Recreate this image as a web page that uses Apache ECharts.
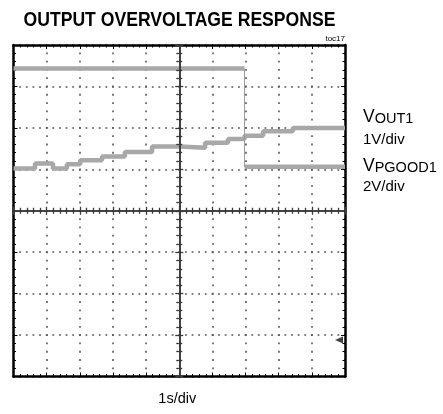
<!DOCTYPE html>
<html>
<head>
<meta charset="utf-8">
<script src="https://cdn.jsdelivr.net/npm/echarts@6/dist/echarts.min.js"></script>
<style>
  html, body { margin: 0; padding: 0; background: #fff; }
  #chart { width: 443px; height: 414px; }
</style>
</head>
<body>
<div id="chart"></div>
<script>
// ---- Data (x in seconds from screen centre, 1 s/div; y in screen divisions from centre) ----
const chartTitle = 'OUTPUT OVERVOLTAGE RESPONSE';
const figureTag = 'toc17';
const xAxisLabel = '1s/div';
const voutLabel = 'VOUT1';
const voutScale = '1V/div';
const pgoodLabel = 'VPGOOD1';
const pgoodScale = '2V/div';

// VOUT1: staircase ramp; each level holds from its start time until the next one
const voutStepTimes  = [-5.00, -4.35, -3.81, -3.39, -2.99, -2.33, -1.64, -0.82, 0.02, 0.78, 1.47, 1.97, 2.53, 3.43, 5.00];
const voutStepLevels = [ 1.02,  1.14,  1.02,  1.12,  1.22,  1.31,  1.42,  1.55, 1.52, 1.64, 1.73, 1.81, 1.92, 2.00, 2.00];

// VPGOOD1: high until overvoltage trip, then low
const pgoodHighTimes = [-5.00, 1.97];
const pgoodHighLevel = 3.43;
const pgoodLowTimes  = [1.97, 5.00];
const pgoodLowLevel  = 1.06;

// ground reference marker on right edge
const groundMarkerTime = [5.0];
const groundMarkerLevel = [-3.12];

// ---- Build ----
const voutData = voutStepTimes.map((t, i) => [t, voutStepLevels[i]]);
const pgoodData = [
  [pgoodHighTimes[0], pgoodHighLevel], [pgoodHighTimes[1], pgoodHighLevel],
  '-',
  [pgoodLowTimes[0], pgoodLowLevel], [pgoodLowTimes[1], pgoodLowLevel]
];
const pgoodEdge = [[pgoodHighTimes[1], pgoodHighLevel], [pgoodLowTimes[0], pgoodLowLevel]];
const markerData = groundMarkerTime.map((t, i) => [t, groundMarkerLevel[i]]);

const FONT = '"Liberation Sans", Arial, sans-serif';
const GRID_COLOR = '#555';
const xDash = { type: [1.8, 6.49], dashOffset: 0.9 };
const yDash = { type: [1.8, 4.83], dashOffset: 0.9 };

function xAx(extra) {
  return Object.assign({
    type: 'value', min: -5, max: 5, interval: 1,
    axisLabel: { show: false },
    splitLine: { show: false },
  }, extra);
}
function yAx(extra) {
  return Object.assign({
    type: 'value', min: -4, max: 4, interval: 1,
    axisLabel: { show: false },
    splitLine: { show: false },
  }, extra);
}

const borderLine = { show: true, onZero: false, lineStyle: { color: '#000', width: 2.5 } };
const borderTick = { show: true, inside: true, length: 4, lineStyle: { color: '#000', width: 1 } };
const borderMinor = { show: true, splitNumber: 5, length: 2.5, lineStyle: { color: '#000', width: 1 } };
const centerLine = { show: true, onZero: true, onZeroAxisIndex: 0, lineStyle: { color: '#3a3a3a', width: 1.6 } };
const centerTick = { show: true, inside: false, length: 4, lineStyle: { color: '#3a3a3a', width: 1.3 } };
const centerMinor = { show: true, splitNumber: 5, length: 3, lineStyle: { color: '#3a3a3a', width: 1.3 } };

const option = {
  animation: false,
  backgroundColor: '#fff',
  grid: { left: 13.5, top: 45, width: 331.5, height: 331.5, show: false, containLabel: false, outerBoundsMode: 'none' },
  xAxis: [
    xAx({ position: 'bottom', z: 1, axisLine: borderLine, axisTick: borderTick, minorTick: borderMinor,
      splitLine: { show: true, lineStyle: Object.assign({ color: GRID_COLOR, width: 1.6 }, xDash) },
      name: xAxisLabel, nameLocation: 'middle', nameGap: 15,
      nameTextStyle: { fontFamily: FONT, fontSize: 14.5, color: '#000', padding: [0, 4, 0, 0] } }),
    xAx({ position: 'top', z: 1, axisLine: borderLine, axisTick: borderTick, minorTick: borderMinor }),
    xAx({ position: 'bottom', z: 5, axisLine: centerLine, axisTick: centerTick, minorTick: centerMinor }),
    xAx({ position: 'top', z: 5, axisLine: centerLine, axisTick: centerTick, minorTick: centerMinor })
  ],
  yAxis: [
    yAx({ position: 'left', z: 1, axisLine: borderLine, axisTick: borderTick, minorTick: borderMinor,
      splitLine: { show: true, lineStyle: Object.assign({ color: GRID_COLOR, width: 1.6 }, yDash) } }),
    yAx({ position: 'right', z: 1, axisLine: borderLine, axisTick: borderTick, minorTick: borderMinor }),
    yAx({ position: 'left', z: 5, axisLine: centerLine, axisTick: centerTick, minorTick: centerMinor }),
    yAx({ position: 'right', z: 5, axisLine: centerLine, axisTick: centerTick, minorTick: centerMinor })
  ],
  series: [
    { name: voutLabel, type: 'line', step: 'end', data: voutData, xAxisIndex: 0, yAxisIndex: 0,
      showSymbol: false, symbol: 'none', z: 3,
      lineStyle: { color: '#a8a8a8', width: 4.5 } },
    { name: pgoodLabel, type: 'line', data: pgoodData, xAxisIndex: 0, yAxisIndex: 0,
      connectNulls: false, showSymbol: false, symbol: 'none', z: 3,
      lineStyle: { color: '#a8a8a8', width: 4.5 } },
    { name: pgoodLabel + ' edge', type: 'line', data: pgoodEdge, xAxisIndex: 0, yAxisIndex: 0,
      showSymbol: false, symbol: 'none', z: 3,
      lineStyle: { color: '#9a9a9a', width: 1 } },
    { name: 'ground', type: 'scatter', data: markerData, xAxisIndex: 0, yAxisIndex: 0,
      symbol: 'triangle', symbolRotate: 90, symbolSize: [7, 8], symbolOffset: [-6, 0], clip: false, z: 6,
      itemStyle: { color: '#111' } }
  ],
  graphic: [
    { type: 'text', x: 179.5, y: 20, scaleX: 0.88, z: 10, style: { text: chartTitle, fill: '#000',
      font: 'bold 20px "Liberation Sans", Arial, sans-serif', align: 'center', verticalAlign: 'middle' } },
    { type: 'text', x: 345, y: 39, z: 10, style: { text: figureTag, fill: '#000',
      font: '8px ' + FONT, align: 'right', verticalAlign: 'middle' } },
    { type: 'text', x: 363, y: 126.6, z: 10, style: { text: '{v|V}{s|OUT1}', fill: '#000', align: 'left', verticalAlign: 'bottom',
      rich: { v: { fontFamily: FONT, fontSize: 17.5, verticalAlign: 'bottom', fill: '#000' },
              s: { fontFamily: FONT, fontSize: 14.5, verticalAlign: 'bottom', fill: '#000' } } } },
    { type: 'text', x: 363, y: 139.8, z: 10, style: { text: voutScale, fill: '#000',
      font: '15px ' + FONT, align: 'left', verticalAlign: 'middle' } },
    { type: 'text', x: 363, y: 175.3, z: 10, style: { text: '{v|V}{s|PGOOD1}', fill: '#000', align: 'left', verticalAlign: 'bottom',
      rich: { v: { fontFamily: FONT, fontSize: 17.5, verticalAlign: 'bottom', fill: '#000' },
              s: { fontFamily: FONT, fontSize: 14.5, verticalAlign: 'bottom', fill: '#000' } } } },
    { type: 'text', x: 363, y: 186.8, z: 10, style: { text: pgoodScale, fill: '#000',
      font: '15px ' + FONT, align: 'left', verticalAlign: 'middle' } }
  ]
};

const chart = echarts.init(document.getElementById('chart'), null, { renderer: 'canvas' });
chart.setOption(option);
</script>
</body>
</html>
